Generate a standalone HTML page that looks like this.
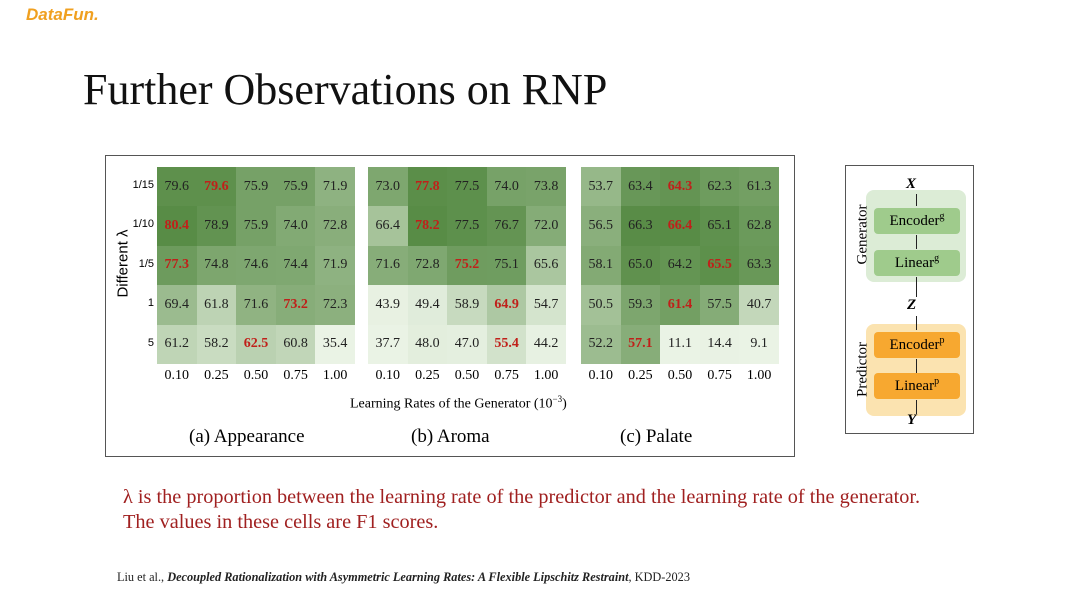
<!DOCTYPE html>
<html><head><meta charset="utf-8"><style>
body{margin:0;width:1080px;height:607px;background:#fff;position:relative;overflow:hidden;font-family:"Liberation Serif",serif;}
.a{position:absolute;}
.grid{position:absolute;display:grid;grid-template-columns:repeat(5,39.6px);grid-template-rows:repeat(5,39.4px);}
.grid div{display:flex;align-items:center;justify-content:center;font-size:14px;color:#222;}
.grid div.r{color:#c0201a;font-weight:bold;}
.xl{position:absolute;top:368px;font-size:14px;display:flex;}
.xl span{width:39.6px;text-align:center;}
.yl{position:absolute;left:120px;font-family:"Liberation Sans",sans-serif;font-size:11px;width:34px;text-align:right;}
.blk{position:absolute;left:28px;width:86px;height:26px;border-radius:4px;font-size:15px;display:flex;align-items:center;justify-content:center;}
.blk sup{font-size:10px;position:relative;top:-5px;vertical-align:baseline;}
.arr{position:absolute;left:70px;width:1px;background:#222;}
</style></head><body>
<div class="a" style="left:26px;top:5px;font-family:'Liberation Sans',sans-serif;font-weight:bold;font-style:italic;font-size:17px;color:#f0a020;">DataFun.</div>
<div class="a" style="left:83px;top:64px;font-size:44px;color:#111;">Further Observations on RNP</div>
<div class="a" style="left:105px;top:155px;width:688px;height:300px;border:1px solid #555;"></div>

<div class="yl" style="top:179px">1/15</div><div class="yl" style="top:218px">1/10</div><div class="yl" style="top:258px">1/5</div><div class="yl" style="top:297px">1</div><div class="yl" style="top:337px">5</div>
<div class="a" style="left:78px;top:255px;width:90px;text-align:center;transform:rotate(-90deg);font-family:'Liberation Sans',sans-serif;font-size:15px;white-space:nowrap;">Different λ</div>

<div class="grid" style="left:157px;top:167px">
<div>79.6</div><div class="r">79.6</div><div>75.9</div><div>75.9</div><div>71.9</div>
<div class="r">80.4</div><div>78.9</div><div>75.9</div><div>74.0</div><div>72.8</div>
<div class="r">77.3</div><div>74.8</div><div>74.6</div><div>74.4</div><div>71.9</div>
<div>69.4</div><div>61.8</div><div>71.6</div><div class="r">73.2</div><div>72.3</div>
<div>61.2</div><div>58.2</div><div class="r">62.5</div><div>60.8</div><div>35.4</div>
</div>
<div class="grid" style="left:368px;top:167px">
<div>73.0</div><div class="r">77.8</div><div>77.5</div><div>74.0</div><div>73.8</div>
<div>66.4</div><div class="r">78.2</div><div>77.5</div><div>76.7</div><div>72.0</div>
<div>71.6</div><div>72.8</div><div class="r">75.2</div><div>75.1</div><div>65.6</div>
<div>43.9</div><div>49.4</div><div>58.9</div><div class="r">64.9</div><div>54.7</div>
<div>37.7</div><div>48.0</div><div>47.0</div><div class="r">55.4</div><div>44.2</div>
</div>
<div class="grid" style="left:581px;top:167px">
<div>53.7</div><div>63.4</div><div class="r">64.3</div><div>62.3</div><div>61.3</div>
<div>56.5</div><div>66.3</div><div class="r">66.4</div><div>65.1</div><div>62.8</div>
<div>58.1</div><div>65.0</div><div>64.2</div><div class="r">65.5</div><div>63.3</div>
<div>50.5</div><div>59.3</div><div class="r">61.4</div><div>57.5</div><div>40.7</div>
<div>52.2</div><div class="r">57.1</div><div>11.1</div><div>14.4</div><div>9.1</div>
</div>
<div class="xl" style="left:157px"><span>0.10</span><span>0.25</span><span>0.50</span><span>0.75</span><span>1.00</span></div>
<div class="xl" style="left:368px"><span>0.10</span><span>0.25</span><span>0.50</span><span>0.75</span><span>1.00</span></div>
<div class="xl" style="left:581px"><span>0.10</span><span>0.25</span><span>0.50</span><span>0.75</span><span>1.00</span></div>
<div class="a" style="left:350px;top:394px;font-size:14px;">Learning Rates of the Generator (10<sup style="font-size:9px">−3</sup>)</div>
<div class="a" style="left:189px;top:426px;font-size:19px;">(a) Appearance</div>
<div class="a" style="left:411px;top:426px;font-size:19px;">(b) Aroma</div>
<div class="a" style="left:620px;top:426px;font-size:19px;">(c) Palate</div>

<div class="a" style="left:845px;top:165px;width:127px;height:267px;border:1px solid #555;">
 <div class="a" style="left:20px;top:24px;width:100px;height:92px;background:#dcecd6;border-radius:8px;"></div>
 <div class="a" style="left:20px;top:158px;width:100px;height:92px;background:#fbe3b0;border-radius:8px;"></div>
 <div class="a" style="left:60px;top:10px;font-weight:bold;font-style:italic;font-size:15px;">X</div>
 <div class="arr" style="top:28px;height:12px"></div>
 <div class="blk" style="top:42px;background:#9fcb8c;">Encoder<sup>g</sup></div>
 <div class="arr" style="top:69px;height:14px"></div>
 <div class="blk" style="top:84px;background:#9fcb8c;">Linear<sup>g</sup></div>
 <div class="arr" style="top:111px;height:20px"></div>
 <div class="a" style="left:61px;top:131px;font-weight:bold;font-style:italic;font-size:15px;">Z</div>
 <div class="arr" style="top:150px;height:14px"></div>
 <div class="blk" style="top:166px;background:#f7a830;">Encoder<sup>p</sup></div>
 <div class="arr" style="top:193px;height:14px"></div>
 <div class="blk" style="top:207px;background:#f7a830;">Linear<sup>p</sup></div>
 <div class="arr" style="top:234px;height:14px"></div>
 <div class="a" style="left:61px;top:246px;font-weight:bold;font-style:italic;font-size:15px;">Y</div>
 <div class="a" style="left:-28px;top:60px;transform:rotate(-90deg);font-size:15px;width:90px;text-align:center;">Generator</div>
 <div class="a" style="left:-28px;top:195px;transform:rotate(-90deg);font-size:15px;width:90px;text-align:center;">Predictor</div>
</div>

<div class="a" style="left:123px;top:485px;font-size:20.3px;color:#a02020;line-height:25px;white-space:nowrap;">λ is the proportion between the learning rate of the predictor and the learning rate of the generator.<br>The values in these cells are F1 scores.</div>
<div class="a" style="left:117px;top:570px;font-size:12.3px;color:#222;white-space:nowrap;">Liu et al., <b><i>Decoupled Rationalization with Asymmetric Learning Rates: A Flexible Lipschitz Restraint</i></b>, KDD-2023</div>
<script>
document.querySelectorAll('.grid').forEach(g=>{
 const cs=[...g.children];const v=cs.map(c=>parseFloat(c.textContent));
 const mn=Math.min(...v),mx=Math.max(...v);
 cs.forEach((c,i)=>{let t=Math.pow((v[i]-mn)/(mx-mn),2.2);
  const L=[234,243,229],D=[88,140,70];
  c.style.background='rgb('+L.map((l,k)=>Math.round(l+(D[k]-l)*t)).join(',')+')';});
});
</script>
</body></html>
